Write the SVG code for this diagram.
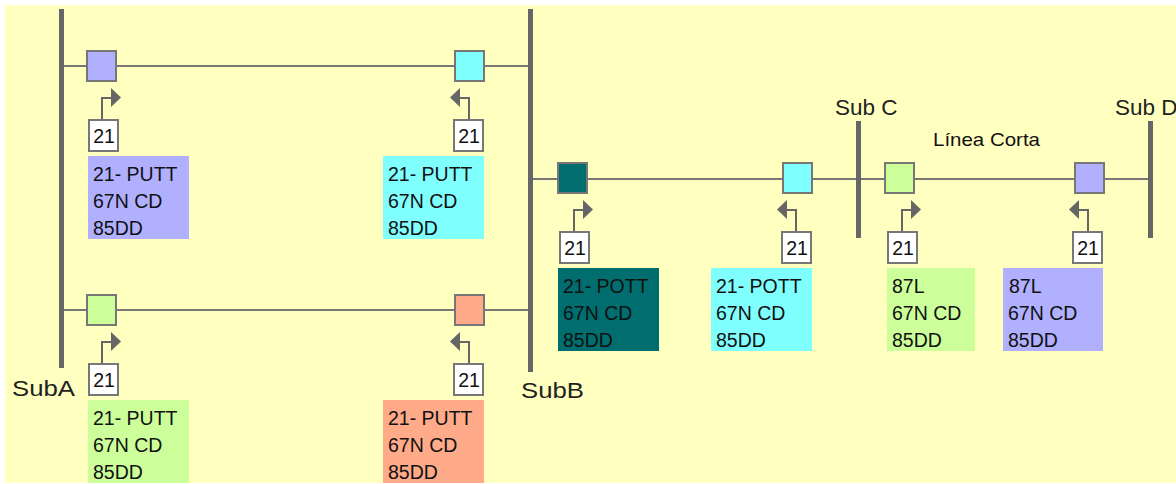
<svg xmlns="http://www.w3.org/2000/svg" width="1176" height="484" viewBox="0 0 1176 484">
<style>
text{font-family:"Liberation Sans",Arial,sans-serif;font-size:19.500px;fill:#111}
.sub{font-size:22.500px;fill:#222}
.bus{stroke:#666;stroke-width:5;fill:none}
.line{stroke:#777;stroke-width:2;fill:none}
.lead{stroke:#666;stroke-width:2;fill:none}
.brk{stroke:#777;stroke-width:2}
.relay{fill:#fff;stroke:#777;stroke-width:2}
.blue{fill:#B0B0FF}.cyan{fill:#80FFFF}.green{fill:#CCFF99}.salmon{fill:#FFAA88}.teal{fill:#006E6E}
.head{fill:#666}
.num{text-anchor:middle}
</style>
<rect x="5" y="5" width="1171" height="478" fill="#FFFFC0"/>
<g id="connectors">
<path class="line" d="M61 66H530M61 310H530M530 179H1150"/>
<path class="bus" d="M61.500 9V368M530.500 9V372M858.500 121V238M1150.500 121V238"/>
<g id="leads">
<path class="lead" d="M102 120V98H112"/><path class="head" d="M111 88l10 9.500-10 9.500z"/>
<path class="lead" d="M469 120V98H459"/><path class="head" d="M460 88l-10 9.500 10 9.500z"/>
<path class="lead" d="M102 364V342H112"/><path class="head" d="M111 332l10 9.500-10 9.500z"/>
<path class="lead" d="M469 364V342H459"/><path class="head" d="M460 332l-10 9.500 10 9.500z"/>
<path class="lead" d="M574 232V210H584"/><path class="head" d="M583 200l10 9.500-10 9.500z"/>
<path class="lead" d="M796 232V210H786"/><path class="head" d="M787 200l-10 9.500 10 9.500z"/>
<path class="lead" d="M902 232V210H912"/><path class="head" d="M911 200l10 9.500-10 9.500z"/>
<path class="lead" d="M1088 232V210H1078"/><path class="head" d="M1079 200l-10 9.500 10 9.500z"/>
</g>
</g>
<g id="labels">
<text class="sub" x="12" y="396" textLength="63" lengthAdjust="spacingAndGlyphs">SubA</text>
<text class="sub" x="521" y="398" textLength="63" lengthAdjust="spacingAndGlyphs">SubB</text>
<text class="sub" x="835" y="115">Sub C</text>
<text class="sub" x="1115" y="115">Sub D</text>
<text x="933" y="146" textLength="107" lengthAdjust="spacingAndGlyphs" style="font-size:19px">Línea Corta</text>
</g>
<g id="node-a1">
<rect class="brk blue" x="87" y="51" width="29" height="30"/>
<rect class="relay" x="89" y="120" width="29" height="31"/><text class="num" x="104" y="143">21</text>
<rect class="blue" x="88" y="156" width="101" height="83"/>
<text x="93" y="181">21- PUTT</text><text x="93" y="208">67N CD</text><text x="93" y="235">85DD</text>
</g>
<g id="node-b1">
<rect class="brk cyan" x="455" y="51" width="29" height="30"/>
<rect class="relay" x="454" y="120" width="29" height="31"/><text class="num" x="469" y="143">21</text>
<rect class="cyan" x="383" y="156" width="101" height="83"/>
<text x="388" y="181">21- PUTT</text><text x="388" y="208">67N CD</text><text x="388" y="235">85DD</text>
</g>
<g id="node-a2">
<rect class="brk green" x="87" y="295" width="29" height="30"/>
<rect class="relay" x="89" y="364" width="29" height="31"/><text class="num" x="104" y="387">21</text>
<rect class="green" x="88" y="400" width="101" height="83"/>
<text x="93" y="425">21- PUTT</text><text x="93" y="452">67N CD</text><text x="93" y="479">85DD</text>
</g>
<g id="node-b2">
<rect class="brk salmon" x="455" y="295" width="29" height="30"/>
<rect class="relay" x="454" y="364" width="29" height="31"/><text class="num" x="469" y="387">21</text>
<rect class="salmon" x="383" y="400" width="101" height="83"/>
<text x="388" y="425">21- PUTT</text><text x="388" y="452">67N CD</text><text x="388" y="479">85DD</text>
</g>
<g id="node-b3">
<rect class="brk teal" x="558" y="163" width="29" height="30"/>
<rect class="relay" x="560" y="232" width="29" height="31"/><text class="num" x="575" y="255">21</text>
<rect class="teal" x="558" y="268" width="101" height="83"/>
<text x="563" y="293">21- POTT</text><text x="563" y="320">67N CD</text><text x="563" y="347">85DD</text>
</g>
<g id="node-c1">
<rect class="brk cyan" x="783" y="163" width="29" height="30"/>
<rect class="relay" x="782" y="232" width="29" height="31"/><text class="num" x="797" y="255">21</text>
<rect class="cyan" x="711" y="268" width="101" height="83"/>
<text x="716" y="293">21- POTT</text><text x="716" y="320">67N CD</text><text x="716" y="347">85DD</text>
</g>
<g id="node-c2">
<rect class="brk green" x="885" y="163" width="29" height="30"/>
<rect class="relay" x="888" y="232" width="29" height="31"/><text class="num" x="903" y="255">21</text>
<rect class="green" x="887" y="268" width="88" height="83"/>
<text x="892" y="293">87L</text><text x="892" y="320">67N CD</text><text x="892" y="347">85DD</text>
</g>
<g id="node-d1">
<rect class="brk blue" x="1075" y="163" width="29" height="30"/>
<rect class="relay" x="1073" y="232" width="29" height="31"/><text class="num" x="1088" y="255">21</text>
<rect class="blue" x="1003" y="268" width="100" height="83"/>
<text x="1009" y="293">87L</text><text x="1008" y="320">67N CD</text><text x="1008" y="347">85DD</text>
</g>
</svg>
